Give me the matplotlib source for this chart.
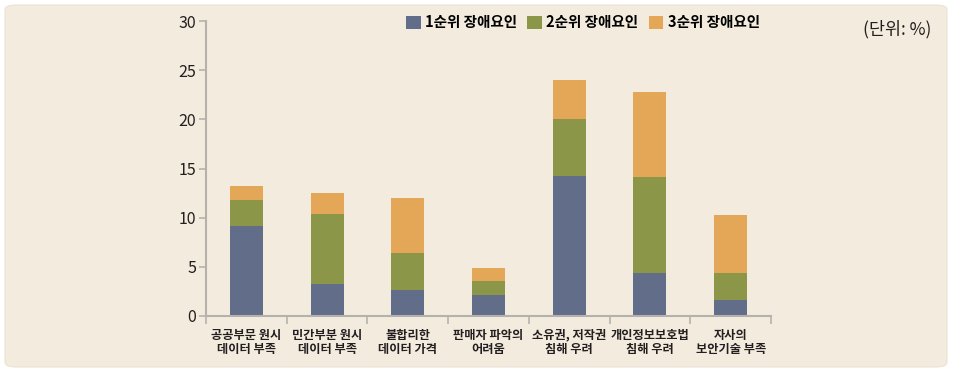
import matplotlib
matplotlib.use("Agg")
import matplotlib.pyplot as plt
from matplotlib.patches import FancyBboxPatch

plt.rcParams["font.family"] = ["Noto Sans CJK KR", "DejaVu Sans"]

categories = ["공공부문 원시\n데이터 부족", "민간부분 원시\n데이터 부족", "불합리한\n데이터 가격",
              "판매자 파악의\n어려움", "소유권, 저작권\n침해 우려", "개인정보보호법\n침해 우려",
              "자사의\n보안기술 부족"]
rank1 = [9.15, 3.25, 2.65, 2.15, 14.25, 4.4, 1.65]
rank2 = [2.65, 7.15, 3.75, 1.4, 5.75, 9.7, 2.75]
rank3 = [1.4, 2.1, 5.6, 1.3, 4.0, 8.7, 5.9]
series_names = ["1순위 장애요인", "2순위 장애요인", "3순위 장애요인"]
colors = ["#626d8a", "#8c9649", "#e4a657"]
BG = "#f3ebdd"

fig = plt.figure(figsize=(9.54, 3.72), dpi=100)
fig.patch.set_facecolor("white")
# rounded beige panel behind everything
panel = FancyBboxPatch((5 / 954, 5 / 372), 942 / 954, 362 / 372,
                       boxstyle="round,pad=0,rounding_size=0.012",
                       transform=fig.transFigure, facecolor=BG, edgecolor="#ebe3d4",
                       linewidth=0.8, zorder=-1)
fig.patches.append(panel)

ax = fig.add_axes([206 / 954, 1 - 316 / 372, 565 / 954, 295 / 372])
ax.set_facecolor("none")

x = list(range(len(categories)))
w = 0.41
bottom2 = rank1
bottom3 = [a + b for a, b in zip(rank1, rank2)]
ax.bar(x, rank1, w, color=colors[0], label=series_names[0], zorder=2)
ax.bar(x, rank2, w, bottom=bottom2, color=colors[1], label=series_names[1], zorder=2)
ax.bar(x, rank3, w, bottom=bottom3, color=colors[2], label=series_names[2], zorder=2)

ax.set_xlim(-0.5, len(categories) - 0.5)
ax.set_ylim(0, 30)
ax.set_yticks(range(0, 31, 5))
ax.tick_params(axis="y", length=5, width=1.2, color="#b5b2ad", pad=2,
               labelsize=11.5, labelcolor="#231f20")
# x ticks sit on category boundaries, labels centered under bars
ax.set_xticks([i - 0.5 for i in range(len(categories) + 1)])
ax.set_xticklabels([])
ax.tick_params(axis="x", length=6, width=1.2, color="#b5b2ad")
for i, lab in enumerate(categories):
    ax.text(i, -1.3, lab, ha="center", va="top", fontsize=8.8, color="#231f20",
            linespacing=1.15, fontweight="bold")

for s in ["top", "right"]:
    ax.spines[s].set_visible(False)
for s in ["left", "bottom"]:
    ax.spines[s].set_color("#b5b2ad")
    ax.spines[s].set_linewidth(1.5)

ax.legend(loc="upper center", bbox_to_anchor=(0.667, 1.068), ncol=3, frameon=False,
          handlelength=1.0, handleheight=1.0, handletextpad=0.3,
          columnspacing=0.7, prop={"weight": "bold", "size": 10.5})

fig.text(931 / 954, 1 - 29 / 372, "(단위: %)", ha="right", va="center",
         fontsize=12.5, color="#231f20")

fig.savefig("out.png", dpi=100, facecolor=fig.get_facecolor())
